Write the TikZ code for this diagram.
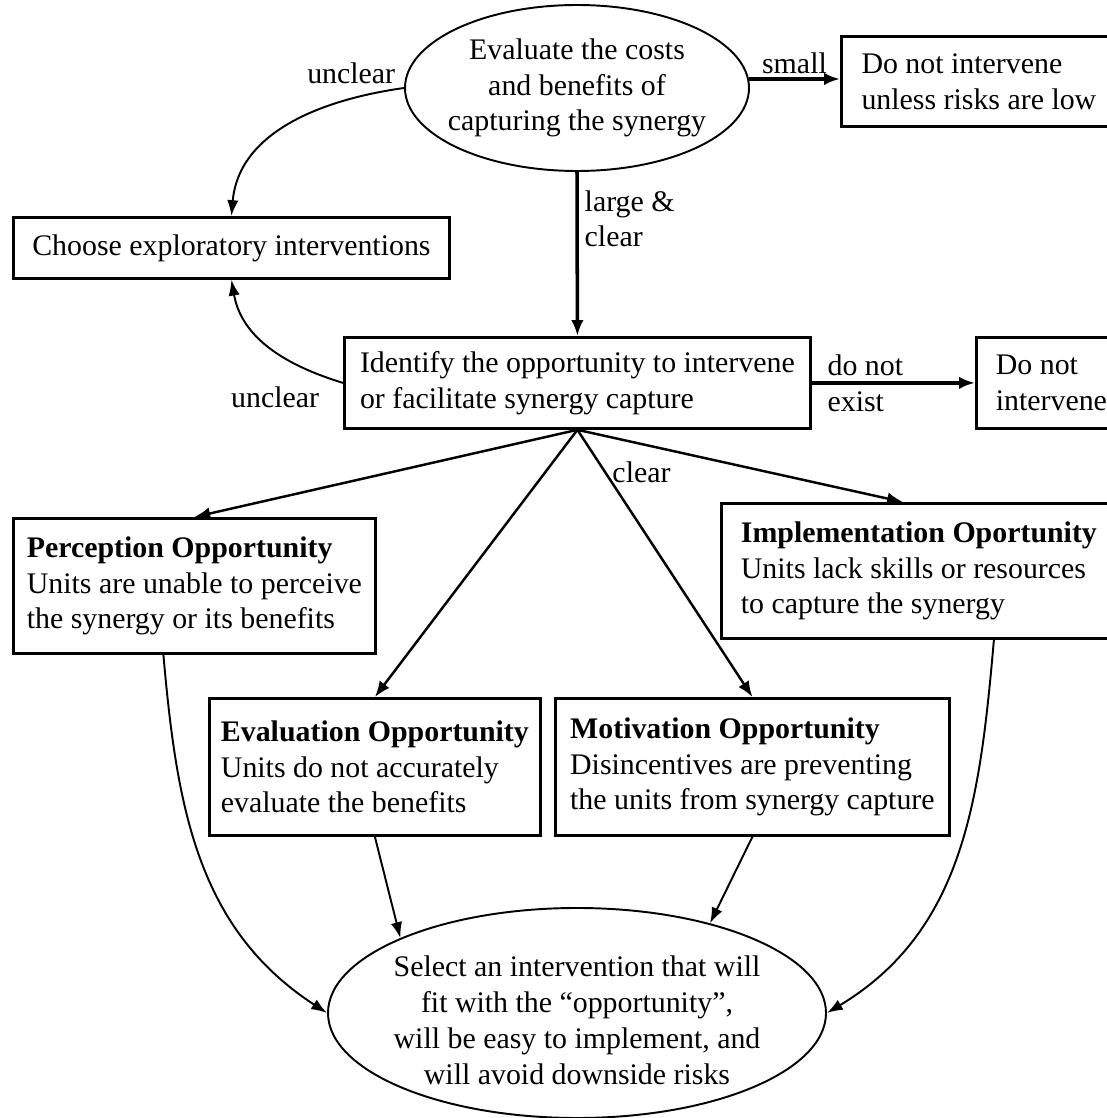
\documentclass[tikz,border=0pt]{standalone}
\usepackage{fontspec}
\setmainfont{Liberation Serif}
\usetikzlibrary{shapes.geometric,positioning,arrows.meta}

\tikzset{
  box/.style={draw, rectangle, line width=1.6pt, anchor=north west, align=left},
  ell/.style={draw, ellipse, line width=1.1pt, inner sep=0pt},
  heavy/.style={-{Latex[length=9pt,width=7pt]}, line width=2pt},
  fan/.style={-{Latex[length=9pt,width=7pt]}, line width=1.4pt},
  curve/.style={-{Latex[length=9pt,width=6.5pt]}, line width=1.1pt},
}

\begin{document}
\begin{tikzpicture}[font=\fontsize{17}{20.4}\selectfont]
  \clip (0,0) rectangle (22.14,22.36);

  % ellipses
  \node [ell, minimum width=6.88cm, minimum height=3.32cm,
         label={[align=center]center:Evaluate the costs\\and benefits of\\capturing the synergy}]
         (cost) at (11.54,20.60) {};
  \node [ell, minimum width=9.96cm, minimum height=4.2cm,
         label={[align=center, yshift=-0.15cm]center:Select an intervention that will\\fit with the ``opportunity'',\\will be easy to implement, and\\will avoid downside risks}]
         (select) at (11.54,2.10) {};

  % boxes
  \node [box, minimum width=5.50cm, minimum height=1.80cm] (lowrisk) at (16.80,21.66)
        {Do not intervene\\unless risks are low};
  \node [box, minimum width=8.72cm, minimum height=1.22cm, align=center] (explore) at (0.24,18.04)
        {Choose exploratory interventions};
  \node [box, minimum width=9.32cm, minimum height=1.82cm] (identify) at (6.86,15.64)
        {Identify the opportunity to intervene\\or facilitate synergy capture};
  \node [box, minimum width=3.00cm, minimum height=1.82cm] (nointerv) at (19.50,15.64)
        {Do not\\intervene};
  \node [box, minimum width=7.24cm, minimum height=2.70cm] (percept) at (0.24,12.02)
        {\textbf{Perception Opportunity}\\Units are unable to perceive\\the synergy or its benefits};
  \node [box, minimum width=7.90cm, minimum height=2.70cm] (implem) at (14.40,12.32)
        {\textbf{Implementation Oportunity}\\Units lack skills or resources\\to capture the synergy};
  \node [box, minimum width=6.62cm, minimum height=2.74cm] (evalopp) at (4.16,8.42)
        {\textbf{Evaluation Opportunity}\\Units do not accurately\\evaluate the benefits};
  \node [box, minimum width=7.88cm, minimum height=2.74cm] (motiv) at (11.08,8.42)
        {\textbf{Motivation Opportunity}\\Disincentives are preventing\\the units from synergy capture};

  % top part
  \draw [heavy] (cost.3) -- (cost.3 -| lowrisk.west) node [midway, above, inner sep=2pt] {small};
  \draw [heavy] (cost.south) -- (identify.north)
        node [pos=0.285, right, align=left] {large \&\\clear};
  \draw [heavy] (identify.east) -- (nointerv.west)
        node [pos=0.05, right, align=left] {do not\\exist};
  \draw [curve] (cost.west) to [out=188, in=85] (explore.north);
  \draw [curve] (identify.west) to [out=163, in=-80] (explore.south);
  \node [above left, xshift=-0.1cm, inner sep=2pt] (unclear1) at (cost.west) {unclear};
  \node [below left, xshift=-0.4cm, inner sep=2pt] (unclear2) at (identify.west) {unclear};

  % the four opportunities
  \draw [fan] (identify.south) -- (percept.north);
  \draw [fan] (identify.south) -- (evalopp.north);
  \draw [fan] (identify.south) -- (motiv.north) node [pos=0.16, right] {clear};
  \draw [fan] (identify.south) -- ([xshift=-0.32cm]implem.north);

  % into the selection
  \draw [curve] ([xshift=-0.62cm]percept.south) to [out=-85, in=147] (select.west);
  \draw [curve] (evalopp.south) -- (select.157);
  \draw [curve] (motiv.south) -- (select.34);
  \draw [curve] ([xshift=1.5cm]implem.south) to [out=-95, in=31] (select.east);
\end{tikzpicture}
\end{document}
